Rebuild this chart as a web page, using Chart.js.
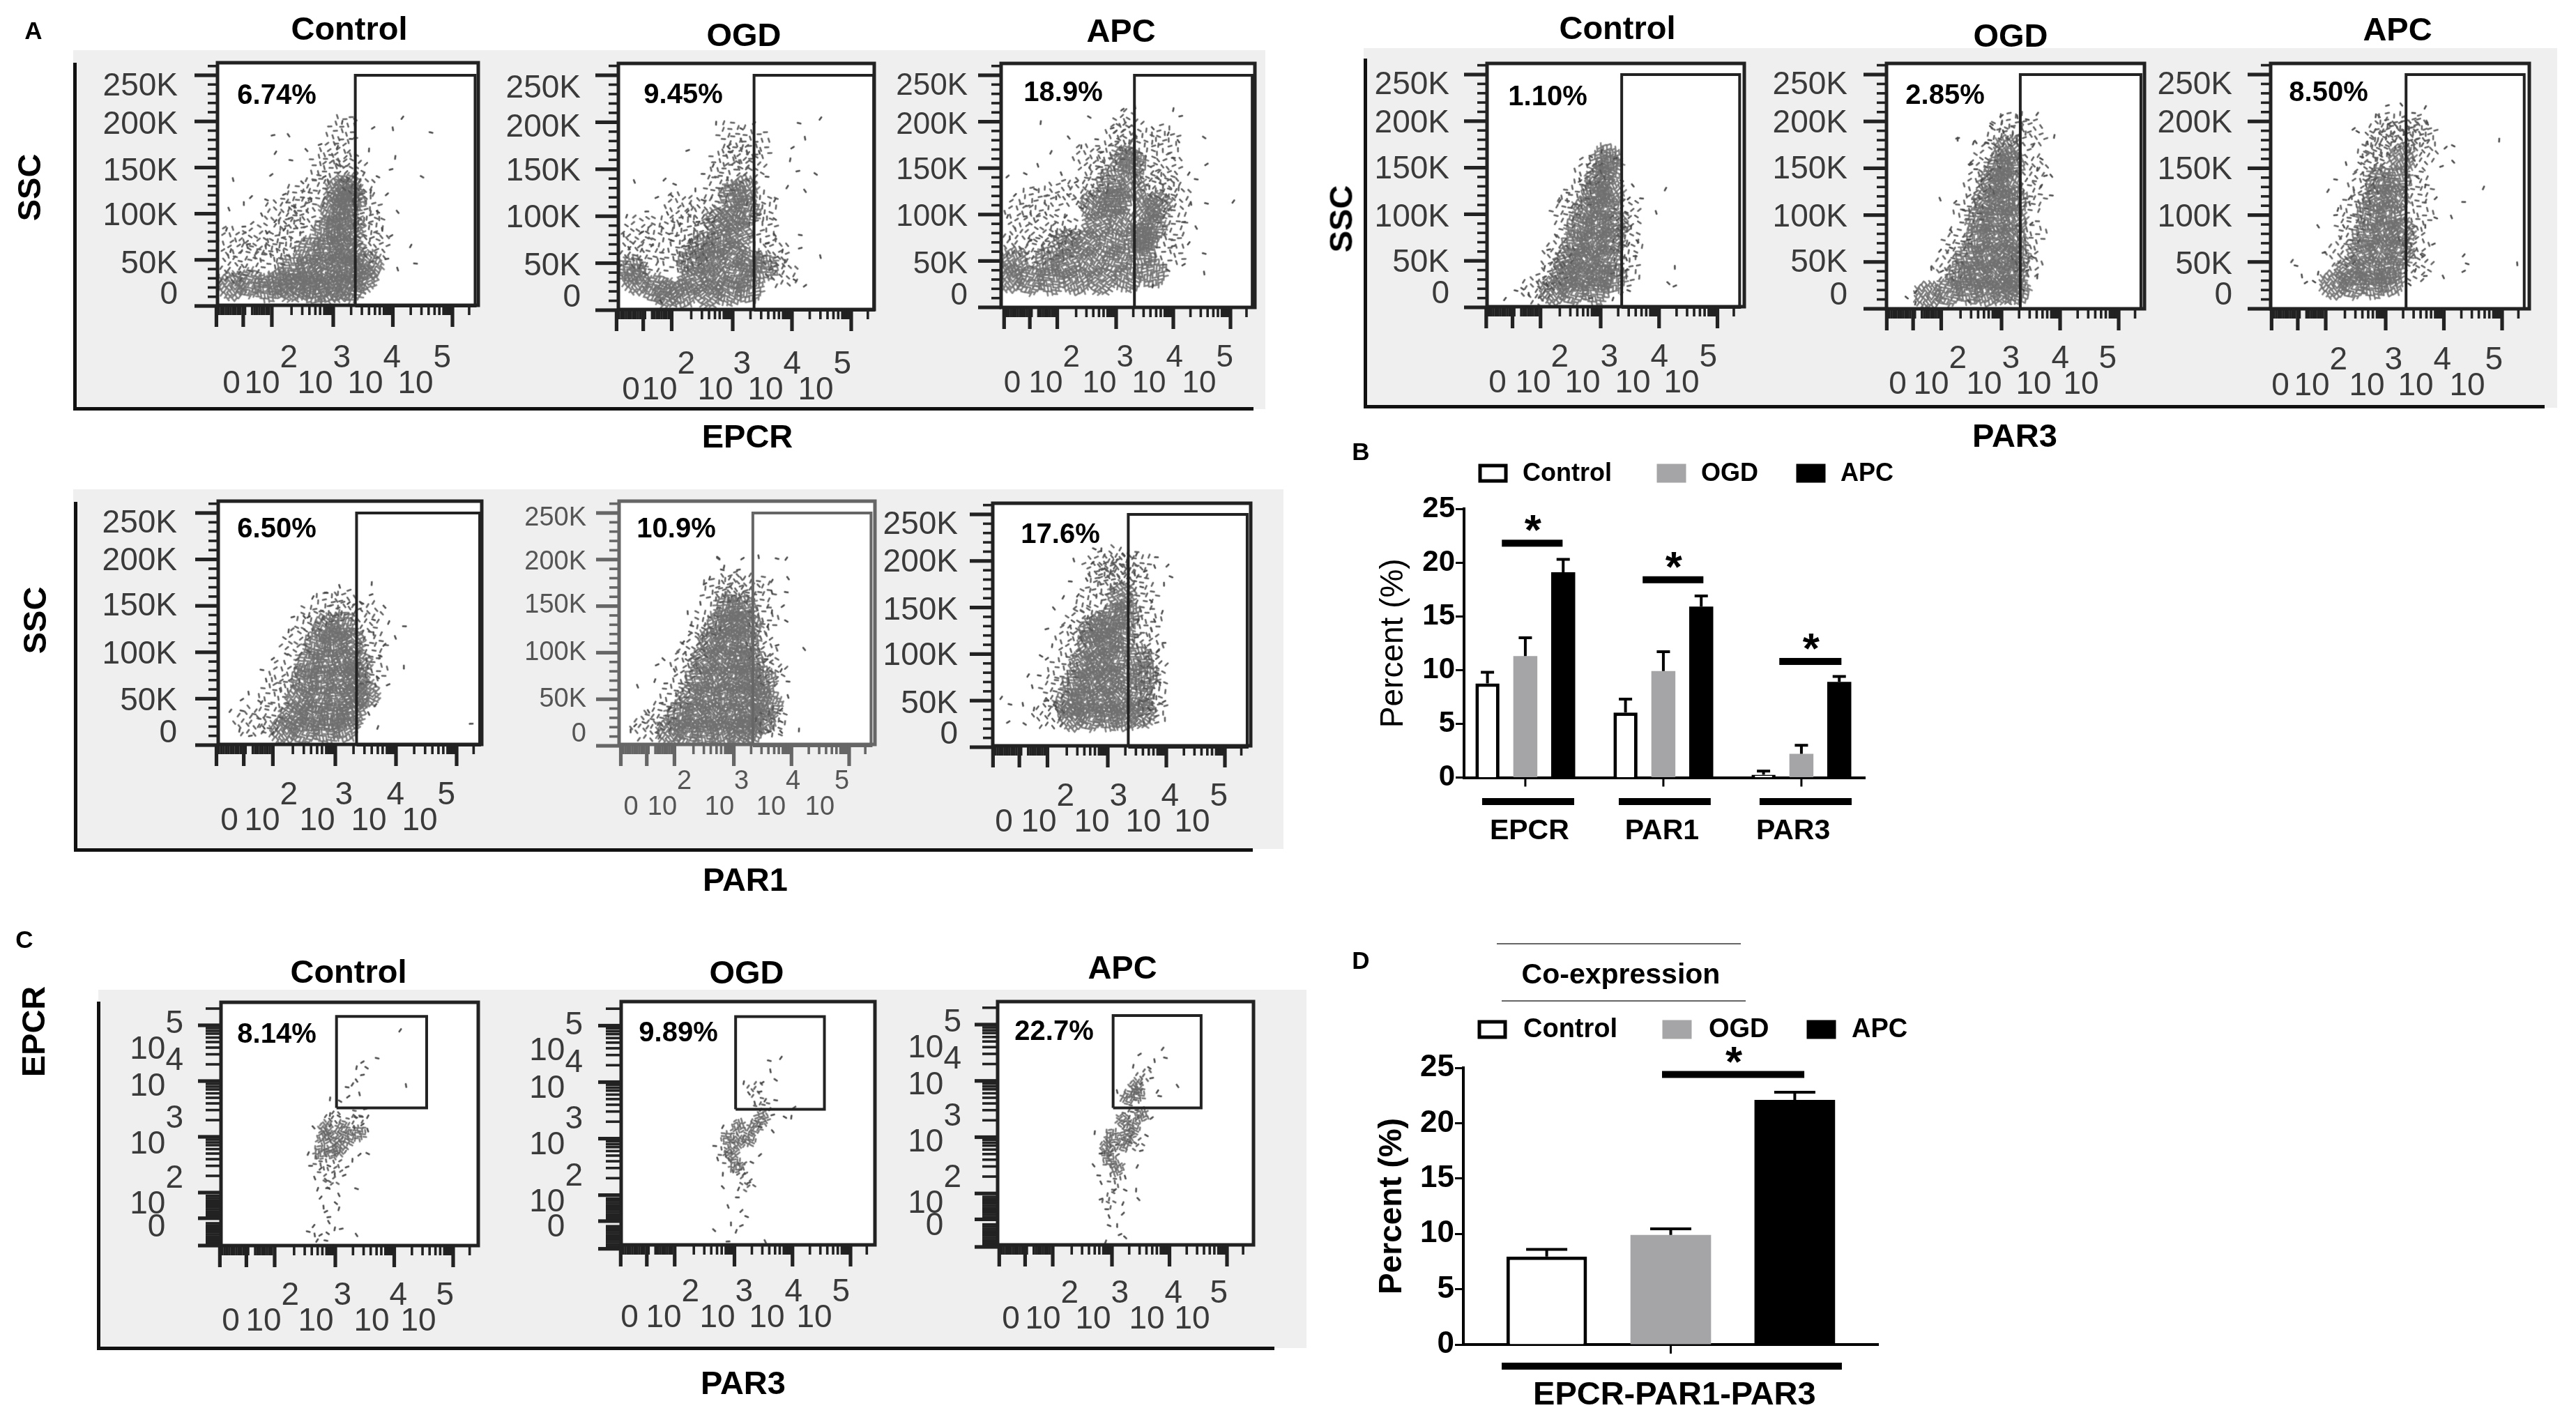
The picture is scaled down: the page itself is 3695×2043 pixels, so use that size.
<!doctype html>
<html>
<head>
<meta charset="utf-8" />
<title>Flow cytometry panels</title>
<script src="https://cdn.jsdelivr.net/npm/chart.js@4"></script>
<style>
html,body{margin:0;background:#fff}
#stage{position:relative;width:3695px;height:2043px;overflow:hidden;filter:blur(.7px);font-family:"Liberation Sans",Arial,sans-serif;color:#000}
#stage canvas{position:absolute}
#stage div{position:absolute;white-space:nowrap}
</style>
</head>
<body>
<div id="stage"></div>
<script>
const groupsB = ['EPCR', 'PAR1', 'PAR3'];
const seriesNames = ['Control', 'OGD', 'APC'];
const controlB = [8.75, 6.05, 0.26];
const ogdB = [11.3, 9.9, 2.2];
const apcB = [19.1, 15.9, 8.9];
const controlErrB = [9.8, 7.3, 0.6];
const ogdErrB = [13.0, 11.7, 3.0];
const apcErrB = [20.3, 16.9, 9.4];
const groupsD = ['EPCR-PAR1-PAR3'];
const controlD = [7.95];
const ogdD = [9.9];
const apcD = [22.1];
const controlErrD = [8.6];
const ogdErrD = [10.45];
const apcErrD = [22.8];

// flow plot axes
const sscTicks = [0, 50, 100, 150, 200, 250];
const sscTickLabels = ['0', '50K', '100K', '150K', '200K', '250K'];
const decadeExponents = ['2', '3', '4', '5'];
const xMajorTicks = [1.04, 1.49, 1.97, 3, 4, 5];
const xMinorTicks = [1.08,1.12,1.16,1.2,1.24,1.28,1.32,1.36,1.4,1.44,1.52,1.64,1.68,1.72,1.76,1.8,1.84,1.88,1.92,2.3,2.48,2.6,2.7,2.78,2.85,2.88,2.91,2.94,2.97,3.3,3.48,3.6,3.7,3.78,3.85,3.88,3.91,3.94,3.97,4.3,4.48,4.6,4.7,4.78,4.85,4.88,4.91,4.94,4.97,5.28];
const sscMinorTicks = [10,20,30,40,60,70,80,90,110,120,130,140,160,170,180,190,210,220,230,240,260];
const epcrMajorTicks = [1.05, 1.54, 2, 3, 4, 5];
const epcrMinorTicks = [1.09,1.13,1.17,1.21,1.25,1.29,1.33,1.37,1.41,1.45,1.58,1.62,1.66,1.7,1.74,1.78,1.82,1.86,1.9,1.94,2.3,2.48,2.6,2.7,2.78,2.85,2.9,2.95,3.3,3.48,3.6,3.7,3.78,3.85,3.9,3.95,4.3,4.48,4.6,4.7,4.78,4.85,4.9,4.95,5.3];

// gates: left edge per plot, shared right edge / top on the SSC plots
const gateLeftEpcr = [3.37, 3.36, 3.32];
const gateLeftPar3 = [3.36, 3.32, 3.35];
const gateLeftPar1 = [3.35, 3.33, 3.35];
const gateRightSsc = 5.38;
const gateTopSsc = 250;
const coGateX = [3.02, 4.55];
const coGateY = [3.52, 5.16];

// cell clouds: dense areas, thinner areas and single events
const epcrControlCore = [[1.3,22],[1.6,25],[1.9,20],[2.1,25],[2.3,20],[2.5,22],[2.7,18],[2.9,18],[3.1,20],[3.3,20],[2.3,40],[2.6,40],[2.85,40],[3.1,42],[3.3,40],[3.5,30],[3.6,45],[2.6,60],[2.9,62],[3.15,62],[3.3,60],[2.9,82],[3.1,85],[3.3,85],[3.0,105],[3.2,108],[3.3,115],[3.1,125],[3.25,128]];
const epcrControlMid = [[1.25,40],[1.6,50],[1.95,55],[1.3,70],[1.7,75],[2.1,65],[2.3,80],[2.5,95],[2.1,100],[2.7,125],[2.85,150],[3.05,165],[3.3,150],[3.6,85],[3.55,105],[3.7,65],[3.45,130],[2.4,115],[3.15,190]];
const epcrControlDots = [[4.16,204],[4.64,188],[4,192],[3.67,193],[3.37,202],[3.15,199],[1.99,185],[2.25,185],[2.03,166],[2.29,158],[1.32,137],[1.96,142],[4.49,140],[4.04,161],[3.97,148],[4.08,102],[4.3,65],[4.38,46],[4.08,40],[3.9,121],[3.75,140],[3.6,169],[2.78,175],[2.55,169],[3.07,172],[3.3,181],[1.25,105],[1.62,118],[1.88,115],[1.5,111],[2.18,121],[2.48,134],[1.21,83],[1.5,86],[1.8,99],[2.03,92],[2.33,108],[2.63,115],[2.85,140],[3.07,153],[1.28,60],[1.58,67],[1.88,80],[2.18,83],[2.48,89],[3.82,83],[3.97,76],[3.75,102],[3.63,124],[3.9,51]];
const epcrOgdCore = [[1.38,32],[1.72,23],[1.3,43],[2.15,18],[2.6,18],[2.93,20],[3.28,23],[2.33,32],[2.67,35],[3.1,37],[3.53,46],[2.67,52],[3,60],[3.28,52],[2.76,71],[3.1,80],[3,97],[3.23,105],[3,122],[3.19,128],[1.9,18],[2.3,52],[2.5,68],[2.75,95]];
const epcrOgdMid = [[1.25,60],[1.6,55],[2,55],[2.3,60],[1.4,85],[1.8,85],[2.2,85],[2.5,80],[2.5,105],[2.75,130],[2.85,155],[3.1,165],[3.3,150],[3.5,110],[3.5,85],[3.7,60],[3.85,40],[3,185],[3.4,175],[2.1,110]];
const epcrOgdDots = [[4.48,204],[4.12,199],[4.22,183],[4.01,173],[4.4,145],[3.97,160],[4.1,148],[4.22,127],[3.92,131],[4.14,80],[4.48,57],[4.22,26],[4.05,32],[3.88,52],[4.14,66],[3.71,80],[3.71,117],[3.58,142],[3.45,168],[3.36,199],[3.15,193],[2.72,199],[2.24,170],[2.93,173],[2.67,154],[2.5,145],[1.34,137],[1.85,139],[2.02,134],[2.37,128],[1.72,120],[1.97,122],[1.21,100],[1.55,105],[1.9,103],[2.24,105],[2.5,117],[1.16,80],[1.47,83],[1.81,88],[2.11,91],[2.41,94],[1.25,66],[1.64,69],[1.98,74],[2.28,74],[2.67,94],[3.71,97],[3.84,63],[3.58,71],[1.79,9]];
const epcrApcCore = [[1.14,32],[1.5,29],[1.86,29],[2.3,29],[2.75,29],[3.2,32],[3.64,37],[2.12,46],[2.57,49],[3.02,52],[3.46,58],[1.23,49],[2.48,69],[2.93,69],[3.38,75],[2.66,89],[3.1,92],[3.64,86],[3.02,115],[3.29,130],[3.73,110],[3.29,156],[1.8,50],[2.15,70],[2.6,110],[2.9,112],[2.9,135],[3.55,105],[3.15,160],[3.5,75]];
const epcrApcMid = [[1.25,70],[1.6,60],[2,65],[1.3,100],[1.7,85],[2.1,85],[1.6,115],[2,120],[2.4,125],[2.7,140],[2.9,165],[3.1,185],[3.2,195],[3.5,175],[3.85,180],[3.9,150],[4.05,120],[4,90],[3.95,60],[2.5,160],[3.55,140],[3.82,130]];
const epcrApcDots = [[5.05,114],[4.58,112],[4.31,112],[4.58,154],[4.54,183],[4,213],[4.13,206],[4.09,179],[4.27,144],[4.4,138],[3.33,216],[3.11,213],[2.53,205],[1.68,199],[2.93,193],[2.17,183],[1.86,167],[2.66,181],[1.63,153],[1.1,141],[1.41,144],[2.39,173],[2.75,167],[3.64,193],[3.91,187],[4,161],[2.04,144],[1.23,121],[1.59,127],[1.95,118],[2.3,135],[2.57,121],[1.1,98],[1.41,98],[1.77,101],[2.12,98],[2.39,107],[1.14,75],[1.5,72],[1.86,78],[2.21,81],[4.18,92],[4.4,86],[4.27,69],[4.54,58],[4.54,37],[4.18,46],[3.91,40],[3.64,23],[4,66]];
const par3ControlCore = [[2.19,18],[2.53,18],[2.91,18],[2.38,34],[2.68,34],[2.98,34],[3.21,31],[2.45,49],[2.76,52],[3.1,52],[2.57,68],[2.87,68],[3.17,71],[2.64,86],[2.95,89],[3.23,89],[2.76,105],[3.06,108],[2.91,123],[3.17,123],[2.98,138],[3.14,151],[3.1,160]];
const par3ControlMid = [[2.3,60],[2.4,100],[2.6,120],[2.8,145],[3.45,100],[3.45,70],[3.45,40],[2.15,35],[1.9,18]];
const par3ControlDots = [[1.36,9],[1.55,18],[1.77,14],[1.96,11],[1.66,20],[2.04,43],[2.11,62],[2.23,77],[2.3,114],[2.44,123],[2.64,137],[2.8,154],[2.83,162],[3.02,168],[3.25,160],[3.55,131],[4.11,127],[3.7,117],[3.95,102],[3.48,117],[3.44,102],[3.52,86],[3.4,86],[3.63,71],[3.48,68],[3.59,55],[3.44,52],[3.44,40],[3.48,18],[4.27,43],[4.27,23],[4.16,26],[3.21,9],[2.83,10],[2.08,25],[3.36,15],[3.36,136],[3.36,111]];
const par3OgdCore = [[1.75,14],[2.1,18],[2.45,20],[2.75,18],[3.05,20],[3.25,20],[2.3,36],[2.6,36],[2.9,36],[3.2,36],[2.45,55],[2.75,55],[3.05,55],[3.25,55],[2.6,75],[2.9,75],[3.2,75],[2.62,95],[2.9,95],[3.2,95],[2.75,115],[3,115],[3.22,115],[2.85,135],[3.1,135],[2.95,150],[3.15,155],[3.1,170]];
const par3OgdMid = [[2.1,45],[2.25,70],[2.45,105],[2.6,130],[2.75,160],[3,185],[3.2,195],[3.5,185],[3.5,150],[3.5,120],[3.5,80],[3.45,50]];
const par3OgdDots = [[3.61,208],[3.44,202],[3.27,205],[3,206],[2.83,197],[3.9,184],[2.25,182],[2.56,178],[3.54,174],[2.8,180],[3.03,189],[2.46,155],[3.68,160],[3.61,149],[3.75,142],[3.85,142],[3.68,131],[3.85,121],[3.48,112],[3.51,91],[3.54,55],[3.61,34],[3.44,41],[3.37,20],[2.66,137],[2.56,149],[1.95,117],[2.21,114],[2.36,105],[2.25,181],[2.48,154],[2.82,194],[2.52,177],[2.74,177],[2.14,83],[1.95,62],[2.14,65],[1.8,43],[1.98,40],[1.38,12],[1.53,6],[2.44,74],[2.44,8],[1.53,18]];
const par3ApcCore = [[2.11,26],[2.45,26],[2.79,26],[3.07,29],[2.38,41],[2.73,41],[3.07,41],[2.59,60],[2.93,63],[3.24,60],[2.66,78],[3,82],[3.27,82],[2.73,100],[3.07,100],[2.86,118],[3.17,118],[2.9,137],[3.2,137],[3.27,161]];
const par3ApcMid = [[2.25,60],[2.4,85],[2.5,110],[2.6,130],[2.75,150],[2.9,175],[3.1,195],[3.5,190],[3.6,165],[3.55,130],[3.55,100],[3.5,70],[3.55,45],[2.79,165],[3.62,186],[3.3,190],[2.95,190]];
const par3ApcDots = [[1.39,51],[1.46,46],[1.56,35],[1.63,28],[1.77,29],[1.84,38],[1.94,60],[1.84,88],[2.01,126],[2.14,138],[2.32,155],[2.45,192],[2.52,189],[2.83,206],[3.03,217],[3.27,218],[3.68,215],[3.48,209],[3.72,198],[4.03,172],[4.16,174],[4.95,180],[3.96,152],[4.16,157],[4.68,129],[4.34,114],[4.13,98],[3.86,118],[3.86,97],[3.68,88],[3.82,69],[3.62,57],[3.51,41],[3.68,35],[3.99,34],[4.34,57],[4.4,48],[5.26,48],[4.34,40],[3.41,26],[2.18,106],[2.14,100],[2.28,88],[2.38,118],[2.59,162],[2.69,177],[3.07,198],[3.55,140],[3.68,131]];
const par1ControlCore = [[2.15,16],[2.49,16],[2.85,16],[3.15,19],[2.3,31],[2.63,31],[2.96,31],[3.26,34],[2.41,49],[2.71,49],[3.04,49],[3.33,52],[3.5,55],[2.49,70],[2.78,70],[3.07,70],[3.33,73],[2.56,87],[2.85,90],[3.15,90],[3.37,87],[2.71,108],[3,111],[3.26,111],[2.85,126],[3.11,129]];
const par1ControlMid = [[1.6,25],[1.9,30],[2,55],[2.15,75],[2.35,110],[2.6,135],[2.9,150],[3.15,150],[3.5,140],[3.6,110],[3.6,80]];
const par1ControlDots = [[1.27,37],[1.46,37],[1.57,56],[1.46,49],[1.75,47],[1.42,16],[1.6,10],[1.82,19],[1.97,13],[1.79,81],[1.86,70],[1.97,93],[2.19,98],[2.23,123],[2.3,138],[2.49,138],[2.63,159],[2.85,164],[3.07,171],[3.22,153],[3.44,153],[3.6,174],[3.59,162],[3.81,149],[3.88,132],[4.14,128],[3.99,116],[3.81,108],[3.74,96],[4.13,84],[3.87,65],[3.7,73],[3.7,19],[5.24,23],[3.55,34],[3.66,43],[3.63,135],[3.63,120],[2.56,138]];
const par1OgdCore = [[1.9,15],[2.2,15],[2.5,15],[2.8,15],[3.1,15],[3.27,18],[2.05,32],[2.35,32],[2.65,32],[2.95,32],[3.25,32],[3.5,28],[2.25,52],[2.55,52],[2.85,52],[3.15,52],[3.4,55],[3.6,45],[2.4,72],[2.7,72],[3,72],[3.25,72],[3.5,70],[2.5,92],[2.8,92],[3.1,92],[3.28,92],[2.62,112],[2.9,112],[3.2,112],[2.75,130],[3,130],[3.25,130],[2.9,148],[3.15,148]];
const par1OgdMid = [[1.5,20],[1.75,30],[2,55],[2.15,85],[2.3,105],[2.5,130],[2.7,165],[2.95,170],[3.15,170],[3.45,165],[3.5,135],[3.5,105],[3.65,80],[3.65,25]];
const par1OgdDots = [[3.91,201],[3.75,201],[3.43,203],[3.15,201],[2.73,201],[2.83,192],[3.08,189],[3.94,180],[3.66,177],[3.91,165],[3.66,165],[3.85,150],[3.91,134],[3.66,144],[3.75,108],[4.22,104],[3.82,81],[3.94,69],[3.94,53],[3.82,39],[3.82,26],[4.13,17],[3.62,15],[3.82,15],[3.59,129],[3.56,93],[1.33,64],[1.29,22],[1.44,25],[1.21,16],[1.67,87],[1.78,93],[1.63,70],[1.82,67],[1.97,81],[2.12,111],[2.27,129],[2.2,143],[2.5,174],[2.73,202],[2.58,180],[1.74,46],[1.52,37],[1.89,40],[2.8,189],[2.42,153]];
const par1ApcCore = [[2.39,33],[2.71,33],[3.02,33],[3.27,33],[3.58,36],[2.33,47],[2.58,50],[2.89,50],[3.18,50],[3.55,53],[2.46,68],[2.74,71],[3.02,71],[3.27,74],[3.64,77],[2.58,89],[2.86,89],[3.11,95],[3.52,95],[2.71,109],[3.02,112],[3.24,118],[3.33,142],[3.24,163],[2.9,130],[3.1,140],[2.75,125]];
const par1ApcMid = [[2,35],[2.1,60],[2.25,85],[2.35,115],[2.5,135],[2.7,155],[2.9,175],[3.1,185],[3.3,190],[3.6,165],[3.65,135],[3.7,110],[3.75,85],[3.75,60],[3.75,40],[2.85,195],[3.15,200],[3.5,195]];
const par1ApcDots = [[1.18,53],[1.33,46],[1.55,46],[1.3,27],[1.58,25],[1.74,41],[1.96,50],[2.11,44],[1.64,77],[1.83,77],[1.71,65],[1.96,95],[1.86,98],[2.05,109],[1.96,127],[2.08,149],[2.24,161],[2.36,178],[2.42,201],[2.74,198],[2.77,213],[2.89,212],[2.92,191],[3.27,207],[3.49,207],[3.83,204],[3.8,194],[4.02,195],[4.08,183],[3.96,175],[3.64,189],[3.74,157],[3.93,145],[3.96,112],[3.8,136],[3.86,104],[3.83,80],[3.89,68],[3.96,49],[3.71,41],[3.52,136],[3.49,118],[2.64,180],[2.49,163],[3.58,172],[3.46,186]];
const coControlCore = [[2.84,3.17],[3.13,3.17],[3.41,3.07],[2.8,2.98],[2.99,2.98],[3.22,2.98],[2.75,2.73],[2.94,2.73],[3.08,2.78]];
const coControlMid = [[2.95,3.35],[3.35,3.35],[2.75,2.5],[3,2.45],[2.9,2.2]];
const coControlDots = [[4.1,4.91],[3.71,4.41],[4.2,3.92],[3.46,4.34],[3.53,4.24],[3.36,4.24],[3.46,4.11],[3.36,4.01],[3.29,3.94],[3.2,3.89],[3.41,3.77],[3.22,3.72],[3.08,3.64],[2.91,3.68],[3.51,3.5],[3.34,3.36],[3.55,3.36],[3.44,3.36],[3.55,3.12],[3.41,2.68],[3.55,2.7],[3.29,2.58],[3.2,2.46],[2.63,3.17],[2.54,2.7],[2.58,2.48],[2.65,2.26],[2.75,2.43],[2.89,2.48],[2.99,2.33],[3.15,2.31],[2.84,2.23],[2.7,2.06],[2.87,2.08],[3.06,1.96],[2.75,1.91],[3.36,2.07],[2.8,1.74],[2.84,1.66],[3.01,1.81],[3.06,1.71],[2.89,1.56],[2.89,1.47],[2.63,1.4],[2.54,1.3],[2.65,1.24],[2.75,1.24],[2.87,1.27],[2.99,1.35],[3.1,1.35],[3.36,1.24],[2.69,1.14],[2.84,1.14],[3.32,3.17],[3.46,3.22],[3.06,3.37],[2.91,3.4]];
const coOgdCore = [[3.07,2.95],[3.35,3.21],[2.89,3],[3.07,3.21],[2.94,2.74],[3.25,3],[3.03,2.53],[3.48,3.36]];
const coOgdMid = [[3.35,3.9],[3.5,3.6],[2.85,2.7],[3.1,2.45],[3.2,2.2]];
const coOgdDots = [[3.8,4.43],[3.6,4.38],[3.62,4.2],[3.48,3.99],[3.71,4.04],[3.16,3.99],[3.44,3.83],[3.25,3.8],[3.53,3.68],[3.71,3.68],[3.35,3.63],[4.03,3.55],[3.87,3.38],[3.98,3.38],[3.66,3.42],[3.66,3.13],[2.8,3.21],[2.66,2.87],[2.71,2.64],[3.44,2.71],[3.3,2.58],[2.8,2.37],[3.25,2.22],[2.8,2.14],[3.07,2.11],[3.05,1.96],[2.89,1.8],[3.12,1.72],[3.21,1.62],[2.94,1.49],[3.12,1.46],[2.65,1.38],[3.03,1.36],[2.89,1.18],[3.53,1.18],[3.16,2.37],[3.44,3.21]];
const coApcCore = [[3.42,3.92],[3.28,3.71],[3.46,3.76],[3.51,3.39],[3.19,3.29],[3.37,3.18],[3,3.03],[3.28,3.03],[2.91,2.82],[3.19,2.87],[2.95,2.61],[3.09,2.45]];
const coApcMid = [[3.55,4.1],[3.35,3.45],[3.05,2.2],[3,2.75],[3.4,2.9],[2.95,1.9]];
const coApcDots = [[3.88,4.57],[3.93,4.41],[3.74,4.36],[3.48,4.47],[3.65,4.23],[3.37,4.26],[3.69,4.05],[4.14,3.91],[3.79,3.81],[3.83,3.73],[3.09,3.81],[3.69,3.34],[3.6,3.03],[2.7,3.08],[3.51,2.76],[2.68,2.5],[3.44,2.48],[2.77,2.32],[3.23,2.29],[3.05,2.06],[3.23,2.06],[3.42,2.06],[2.81,1.9],[3.46,1.9],[3.19,1.82],[2.91,1.72],[2.95,1.59],[3.19,1.64],[2.95,1.43],[3.09,1.43],[3.14,1.27],[3.23,1.22],[2.89,1.14],[2.81,2.71],[2.81,2.19]];

Chart.defaults.font.family = '"Liberation Sans", Arial, sans-serif';
Chart.defaults.animation = false;

const stage = document.getElementById('stage');
const NBSP = '\u00a0';

function addCanvas(left, top, width, height) {
    const c = document.createElement('canvas');
    c.width = width; c.height = height;
    c.style.left = left + 'px'; c.style.top = top + 'px';
    c.style.width = width + 'px'; c.style.height = height + 'px';
    stage.appendChild(c);
    return c;
}

function addText(text, cx, cy, size, weight, rotate) {
    const d = document.createElement('div');
    d.textContent = text;
    d.style.cssText += `left:${cx}px;top:${cy}px;font-size:${size}px;font-weight:${weight};transform:translate(-50%,-50%)${rotate ? ' rotate(-90deg)' : ''}`;
    stage.appendChild(d);
}

function addRect(left, top, width, height, color) {
    const d = document.createElement('div');
    d.style.cssText += `left:${left}px;top:${top}px;width:${width}px;height:${height}px;background:${color}`;
    stage.appendChild(d);
}

// marker glyphs: a speckle of short dashes, the look of the dot plots
function makeStamp(radius, count, dash, color) {
    const c = document.createElement('canvas');
    c.width = c.height = radius * 2 + 6;
    const ctx = c.getContext('2d');
    const mid = radius + 3;
    ctx.strokeStyle = color;
    ctx.lineWidth = 2.6;
    ctx.lineCap = 'round';
    for (let i = 0; i < count; i++) {
        const r = radius * Math.sqrt(i / count);
        const a = i * 2.39996;
        const tilt = i % 2 ? 0.9 : 2.2;
        const x = mid + r * Math.cos(a), y = mid + r * Math.sin(a);
        ctx.beginPath();
        ctx.moveTo(x - Math.cos(tilt) * dash / 2, y - Math.sin(tilt) * dash / 2);
        ctx.lineTo(x + Math.cos(tilt) * dash / 2, y + Math.sin(tilt) * dash / 2);
        ctx.stroke();
    }
    return c;
}
const denseStamp = makeStamp(21, 68, 5.5, 'rgba(112,112,112,.85)');
const thinStamp = makeStamp(24, 18, 5, 'rgba(85,85,85,.9)');
const denseStampSmall = makeStamp(11, 20, 4, 'rgba(100,100,100,.85)');
const thinStampSmall = makeStamp(13, 7, 4, 'rgba(85,85,85,.9)');
const dotStamp = makeStamp(3, 1, 4.5, 'rgba(70,70,70,.95)');
const turn = c => c.dataIndex * 67;

// turn a pixel into an axis value given two reference pixels
function valueAt(px, ref, v0, v1) {
    return v0 + (px - ref[0]) / (ref[1] - ref[0]) * (v1 - v0);
}

function noPadding(s) {
    s.paddingTop = s.paddingBottom = s.paddingLeft = s.paddingRight = 0;
}

const xLabelLines = [['', '0']].concat(decadeExponents.map(e => [NBSP.repeat(6) + e, '10']));

function flowChart(p) {
    const [L, T, R, B] = p.box;
    const isCo = p.kind === 'co';
    const size = p.fontSize || 46;
    const color = p.lineColor || '#222';
    const textColor = p.textColor || '#3a3a3a';
    const y0 = isCo ? 3 : 0, y1 = isCo ? 5 : 250;
    const xRange = [valueAt(L, p.xRef, 3, 5), valueAt(R, p.xRef, 3, 5)];
    const yRange = [valueAt(B, p.yRef, y0, y1), valueAt(T, p.yRef, y0, y1)];
    const canvasLeft = p.labelRight - 140;
    const canvasBottom = B + 170;
    const c = addCanvas(canvasLeft, T - 8, R + 8 - canvasLeft, canvasBottom - T + 8);

    const yLines = isCo
        ? [['', '0' + NBSP + NBSP]].concat(decadeExponents.map(e => [e, '10' + NBSP + NBSP]))
        : sscTickLabels;
    const gate = isCo
        ? [[coGateX[0], coGateY[0]], [coGateX[1], coGateY[0]], [coGateX[1], coGateY[1]], [coGateX[0], coGateY[1]], [coGateX[0], coGateY[0]]]
        : [[p.gateLeft, 0], [gateRightSsc, 0], [gateRightSsc, gateTopSsc], [p.gateLeft, gateTopSsc], [p.gateLeft, 0]];

    const yMinor = isCo ? epcrMinorTicks : sscMinorTicks;
    const yMajor = isCo ? epcrMajorTicks : sscTicks;

    const plot = {
        id: 'plotFrame',
        beforeDraw(chart) {
            const a = chart.chartArea;
            chart.ctx.fillStyle = '#fff';
            chart.ctx.fillRect(a.left, a.top, a.right - a.left, a.bottom - a.top);
        },
        afterDraw(chart) {
            const a = chart.chartArea, ctx = chart.ctx;
            const sx = chart.scales.x, sy = chart.scales.y;
            ctx.save();
            ctx.strokeStyle = color;
            ctx.lineWidth = 5;
            ctx.strokeRect(a.left, a.top, a.right - a.left, a.bottom - a.top);
            // short ticks, then the long ones at each decade
            ctx.fillStyle = color;
            xMinorTicks.forEach(v => ctx.fillRect(sx.getPixelForValue(v) - 1.8, a.bottom, 3.6, 14));
            yMinor.forEach(v => ctx.fillRect(a.left - (isCo ? 22 : 14), sy.getPixelForValue(v) - 1.8, isCo ? 22 : 14, 3.6));
            xMajorTicks.forEach(v => ctx.fillRect(sx.getPixelForValue(v) - 2.6, a.bottom, 5.2, 31));
            yMajor.forEach(v => ctx.fillRect(a.left - 33, sy.getPixelForValue(v) - 2.6, 33, 5.2));
            ctx.restore();
        }
    };

    return new Chart(c, {
        type: 'scatter',
        data: {
            datasets: [
                { label: 'gate', data: gate, showLine: true, pointRadius: 0, borderColor: color, borderWidth: 4, order: 0, clip: false },
                { label: 'events', data: p.dots, pointStyle: dotStamp, pointRotation: turn, order: 1 },
                { label: 'thin', data: p.mid, pointStyle: isCo ? thinStampSmall : thinStamp, pointRotation: turn, order: 2 },
                { label: 'dense', data: p.core, pointStyle: isCo ? denseStampSmall : denseStamp, pointRotation: turn, order: 3 }
            ]
        },
        options: {
            responsive: false,
            devicePixelRatio: 1,
            layout: { padding: { top: 8, right: 8, left: 0, bottom: 0 } },
            plugins: { legend: { display: false }, tooltip: { enabled: false } },
            scales: {
                x: {
                    type: 'linear', min: xRange[0], max: xRange[1], weight: 0,
                    afterFit: s => { s.height = 35; noPadding(s); },
                    ticks: { display: false },
                    grid: { display: false },
                    border: { display: false }
                },
                xNames: {
                    type: 'linear', position: 'bottom', min: xRange[0], max: xRange[1], weight: 1,
                    afterBuildTicks: s => { s.ticks = p.xLabelPx.map(px => ({ value: valueAt(px, p.xRef, 3, 5) })); },
                    afterFit: s => { s.height = canvasBottom - B - 35; noPadding(s); },
                    ticks: {
                        autoSkip: false, maxRotation: 0, minRotation: 0, color: textColor,
                        padding: p.xDigitY - B - 35 - 37 - 18,
                        font: { size: size, lineHeight: 37 / size },
                        callback: (v, i) => xLabelLines[i]
                    },
                    grid: { display: false, drawTicks: false },
                    border: { display: false }
                },
                y: {
                    type: 'linear', min: yRange[0], max: yRange[1], weight: 0,
                    afterFit: s => { s.width = L - p.labelRight; noPadding(s); },
                    ticks: { display: false },
                    grid: { display: false },
                    border: { display: false }
                },
                yNames: {
                    type: 'linear', position: 'left', min: yRange[0], max: yRange[1], weight: 1,
                    afterBuildTicks: s => { s.ticks = p.yLabelPx.map(px => ({ value: valueAt(px, p.yRef, y0, y1) })); },
                    afterFit: s => { s.width = 140; noPadding(s); },
                    ticks: {
                        autoSkip: false, padding: 0, color: textColor,
                        font: { size: size, lineHeight: 37 / size },
                        callback: (v, i) => yLines[i]
                    },
                    grid: { display: false, drawTicks: false },
                    border: { display: false }
                }
            }
        },
        plugins: [plot]
    });
}

const flowPanels = [
    { core: epcrControlCore, mid: epcrControlMid, dots: epcrControlDots, gateLeft: gateLeftEpcr[0], box: [312, 90, 686, 438], xRef: [478, 649], yRef: [439, 108], xLabelPx: [332, 376, 452, 524, 596], xDigitY: 551, yLabelPx: [423, 379, 310, 246, 179, 124], labelRight: 255 },
    { core: epcrOgdCore, mid: epcrOgdMid, dots: epcrOgdDots, gateLeft: gateLeftEpcr[1], box: [887, 91, 1254, 444], xRef: [1051, 1221], yRef: [445, 108], xLabelPx: [905, 946, 1026, 1098, 1170], xDigitY: 560, yLabelPx: [427, 382, 313, 246, 183, 127], labelRight: 833 },
    { core: epcrApcCore, mid: epcrApcMid, dots: epcrApcDots, gateLeft: gateLeftEpcr[2], box: [1436, 91, 1800, 441], xRef: [1601, 1765], yRef: [441, 108], xLabelPx: [1452, 1500, 1577, 1648, 1720], xDigitY: 550, yLabelPx: [425, 380, 312, 245, 180, 124], labelRight: 1388, fontSize: 44 },
    { core: par3ControlCore, mid: par3ControlMid, dots: par3ControlDots, gateLeft: gateLeftPar3[0], box: [2133, 91, 2502, 440], xRef: [2296, 2463.5], yRef: [441, 107], xLabelPx: [2148, 2199, 2270, 2342, 2412], xDigitY: 550, yLabelPx: [422, 377, 312, 243, 177, 122], labelRight: 2079 },
    { core: par3OgdCore, mid: par3OgdMid, dots: par3OgdDots, gateLeft: gateLeftPar3[1], box: [2706, 91, 3076, 443], xRef: [2871, 3039], yRef: [443, 107], xLabelPx: [2722, 2770, 2846, 2917, 2985], xDigitY: 552, yLabelPx: [424, 377, 312, 243, 177, 122], labelRight: 2650 },
    { core: par3ApcCore, mid: par3ApcMid, dots: par3ApcDots, gateLeft: gateLeftPar3[2], box: [3257, 91, 3628, 443], xRef: [3422, 3589], yRef: [443, 107], xLabelPx: [3271, 3316, 3395, 3465, 3539], xDigitY: 554, yLabelPx: [424, 380, 312, 244, 177, 122], labelRight: 3202 },
    { core: par1ControlCore, mid: par1ControlMid, dots: par1ControlDots, gateLeft: gateLeftPar1[0], box: [313, 719, 691, 1068], xRef: [481, 655], yRef: [1069, 736], xLabelPx: [329, 376, 455, 529, 602], xDigitY: 1178, yLabelPx: [1052, 1006, 939, 870, 805, 751], labelRight: 254 },
    { core: par1OgdCore, mid: par1OgdMid, dots: par1OgdDots, gateLeft: gateLeftPar1[1], box: [888, 719, 1255, 1068], xRef: [1052.6, 1218], yRef: [1070, 736], xLabelPx: [905, 950, 1032, 1106, 1176], xDigitY: 1158, yLabelPx: [1054, 1004, 937, 869, 807, 744], labelRight: 841, fontSize: 38, lineColor: '#666', textColor: '#555' },
    { core: par1ApcCore, mid: par1ApcMid, dots: par1ApcDots, gateLeft: gateLeftPar1[2], box: [1424, 722, 1794, 1070], xRef: [1589, 1757], yRef: [1072, 738], xLabelPx: [1440, 1490, 1566, 1640, 1710], xDigitY: 1180, yLabelPx: [1054, 1010, 941, 876, 807, 753], labelRight: 1374 },
    { kind: 'co', core: coControlCore, mid: coControlMid, dots: coControlDots, box: [317, 1438, 686, 1787], xRef: [481, 650], yRef: [1631, 1471], xLabelPx: [331, 378, 453, 533, 600], xDigitY: 1896, yLabelPx: [1743, 1710, 1624, 1541, 1488], labelRight: 263 },
    { kind: 'co', core: coOgdCore, mid: coOgdMid, dots: coOgdDots, box: [891, 1437, 1255, 1786], xRef: [1053.5, 1220], yRef: [1633.6, 1471.5], xLabelPx: [903, 952, 1029, 1100, 1168], xDigitY: 1891, yLabelPx: [1743, 1707, 1625, 1544, 1490], labelRight: 836 },
    { kind: 'co', core: coApcCore, mid: coApcMid, dots: coApcDots, box: [1431, 1437, 1798, 1786], xRef: [1595, 1760], yRef: [1631.5, 1470], xLabelPx: [1450, 1496, 1568, 1645, 1710], xDigitY: 1893, yLabelPx: [1741, 1709, 1621, 1539, 1486], labelRight: 1379 }
];

// grey plates and L-shaped outer axes behind the flow plots
addRect(105, 72, 1710, 515, '#efefef');
addRect(1956, 69, 1712, 516, '#efefef');
addRect(105, 702, 1736, 516, '#efefef');
addRect(141, 1420, 1733, 514, '#efefef');
addRect(105, 90, 5, 497, '#111'); addRect(105, 584, 1693, 5, '#111');
addRect(1956, 84, 5, 500, '#111'); addRect(1956, 581, 1694, 5, '#111');
addRect(106, 720, 5, 500, '#111'); addRect(106, 1217, 1691, 5, '#111');
addRect(139, 1437, 5, 500, '#111'); addRect(139, 1932, 1689, 5, '#111');

flowPanels.forEach(flowChart);

function barChart(cfg) {
    const [L, T, R, B] = cfg.box;
    const c = addCanvas(cfg.canvasLeft, cfg.canvasTop, cfg.canvasRight - cfg.canvasLeft, cfg.canvasBottom - cfg.canvasTop);
    const fills = ['#fff', '#a5a5a8', '#000'];
    const edges = ['#000', '#a5a5a8', '#000'];
    const marks = {
        id: 'barMarks',
        afterDatasetsDraw(chart) {
            const ctx = chart.ctx, sx = chart.scales.x, sy = chart.scales.y;
            ctx.save();
            ctx.strokeStyle = '#000';
            ctx.fillStyle = '#000';
            // category tick under each group
            cfg.categories.forEach((n, i) => {
                ctx.fillRect(sx.getPixelForValue(i) - 1.5, chart.chartArea.bottom, 3, 13);
            });
            // error bars, upper half only
            cfg.errors.forEach((errs, d) => {
                chart.getDatasetMeta(d).data.forEach((bar, i) => {
                    const top = sy.getPixelForValue(errs[i]);
                    ctx.lineWidth = 4;
                    ctx.beginPath();
                    ctx.moveTo(bar.x, sy.getPixelForValue(cfg.values[d][i]));
                    ctx.lineTo(bar.x, top);
                    ctx.moveTo(bar.x - cfg.cap / 2, top);
                    ctx.lineTo(bar.x + cfg.cap / 2, top);
                    ctx.stroke();
                });
            });
            // significance bars with their stars
            ctx.textAlign = 'center';
            ctx.textBaseline = 'middle';
            ctx.font = 'bold 62px "Liberation Sans"';
            cfg.sig.forEach(s => {
                const a = sx.getPixelForValue(s[0]), b = sx.getPixelForValue(s[1]), y = sy.getPixelForValue(s[2]);
                ctx.fillRect(a, y - 5, b - a, 10);
                ctx.fillText('*', (a + b) / 2 + 1, y - 15);
            });
            // group underlines
            cfg.under.forEach(s => {
                const a = sx.getPixelForValue(s[0]), b = sx.getPixelForValue(s[1]);
                ctx.fillRect(a, cfg.underY - cfg.canvasTop - 5, b - a, 10);
            });
            // legend
            ctx.textAlign = 'left';
            ctx.font = `bold ${cfg.legendFont}px "Liberation Sans"`;
            chart.data.datasets.forEach((ds, i) => {
                const x = cfg.legendX[i][0] - cfg.canvasLeft, y = cfg.legendY - cfg.canvasTop;
                ctx.fillStyle = fills[i];
                ctx.strokeStyle = edges[i];
                ctx.lineWidth = 5;
                ctx.fillRect(x, y - 13, 41, 26);
                ctx.strokeRect(x + 2, y - 11, 37, 22);
                ctx.fillStyle = '#000';
                ctx.fillText(ds.label, cfg.legendX[i][1] - cfg.canvasLeft, y + 1);
            });
            ctx.restore();
        }
    };
    return new Chart(c, {
        type: 'bar',
        data: {
            datasets: cfg.values.map((vals, d) => ({
                label: seriesNames[d],
                data: vals.map((v, i) => ({ x: i, y: v })),
                backgroundColor: fills[d],
                borderColor: edges[d],
                borderWidth: d === 0 ? 5 : 0,
                categoryPercentage: cfg.catPct,
                barPercentage: cfg.barPct
            }))
        },
        options: {
            responsive: false,
            devicePixelRatio: 1,
            layout: { padding: { top: T - cfg.canvasTop, right: cfg.canvasRight - R, left: 0, bottom: 0 } },
            plugins: { legend: { display: false }, tooltip: { enabled: false } },
            scales: {
                x: {
                    type: 'linear', offset: false, min: cfg.xRange[0], max: cfg.xRange[1], weight: 0,
                    afterBuildTicks: s => { s.ticks = cfg.categories.map((n, i) => ({ value: i })); },
                    afterFit: s => { s.height = cfg.xHeight; noPadding(s); },
                    ticks: { display: false, autoSkip: false },
                    grid: { display: false },
                    border: { color: '#000', width: 4 }
                },
                xNames: {
                    type: 'linear', offset: false, position: 'bottom', min: cfg.xRange[0], max: cfg.xRange[1], weight: 1,
                    afterBuildTicks: s => { s.ticks = cfg.nameAt.map(v => ({ value: v })); },
                    afterFit: s => { s.height = cfg.canvasBottom - B - cfg.xHeight; noPadding(s); },
                    ticks: {
                        autoSkip: false, maxRotation: 0, minRotation: 0, color: '#000', padding: cfg.namePad,
                        font: { size: cfg.nameFont, weight: 'bold' },
                        callback: (v, i) => cfg.categories[i]
                    },
                    grid: { display: false, drawTicks: false },
                    border: { display: false }
                },
                y: {
                    type: 'linear', min: 0, max: 25,
                    afterFit: s => { s.width = L - cfg.canvasLeft; noPadding(s); },
                    title: { display: true, text: 'Percent (%)', color: '#000', font: { size: cfg.titleFont, weight: cfg.titleWeight } },
                    ticks: { stepSize: 5, color: '#000', padding: 1, font: { size: cfg.tickFont, weight: 'bold' } },
                    grid: { drawOnChartArea: false, tickLength: 12, tickWidth: 3, color: '#000' },
                    border: { color: '#000', width: 4 }
                }
            }
        },
        plugins: [marks]
    });
}

// panel B
barChart({
    box: [2100, 730, 2675, 1115.5], canvasLeft: 1968, canvasTop: 650, canvasBottom: 1225, canvasRight: 2760,
    categories: groupsB, values: [controlB, ogdB, apcB], errors: [controlErrB, ogdErrB, apcErrB],
    xRange: [-0.444, 2.46], catPct: 0.823, barPct: 0.635, cap: 19,
    sig: [[-0.17, 0.27, 21.8], [0.85, 1.29, 18.4], [1.84, 2.29, 10.8]],
    under: [[-0.313, 0.354], [0.677, 1.343], [1.697, 2.364]], underY: 1150,
    nameAt: [0.03, 0.99, 1.94], nameFont: 41, namePad: 8, xHeight: 45,
    titleFont: 46, titleWeight: 'normal', tickFont: 42,
    legendFont: 36, legendY: 679, legendX: [[2121, 2184], [2377, 2440], [2577, 2640]]
});

// panel D
barChart({
    box: [2099, 1532, 2694, 1929], canvasLeft: 1966, canvasTop: 1450, canvasBottom: 2035, canvasRight: 2760,
    categories: groupsD, values: [controlD, ogdD, apcD], errors: [controlErrD, ogdErrD, apcErrD],
    xRange: [-1, 1], catPct: 0.897, barPct: 0.65, cap: 59,
    sig: [[-0.042, 0.644, 24.4]],
    under: [[-0.815, 0.825]], underY: 1960,
    nameAt: [0.018], nameFont: 47, namePad: 5, xHeight: 40,
    titleFont: 46, titleWeight: 'bold', tickFont: 44,
    legendFont: 38, legendY: 1477, legendX: [[2120, 2185], [2385, 2451], [2592, 2656]]
});

// text around the charts
const panelLetters = [['A', 48, 44], ['B', 1952, 648], ['C', 35, 1348], ['D', 1952, 1378]];
panelLetters.forEach(t => addText(t[0], t[1], t[2], 35, 'bold'));

const plotTitles = [['Control', 501, 40], ['OGD', 1067, 49], ['APC', 1608, 43], ['Control', 2320, 39], ['OGD', 2884, 50], ['APC', 3439, 41], ['Control', 500, 1393], ['OGD', 1071, 1394], ['APC', 1610, 1387]];
plotTitles.forEach(t => addText(t[0], t[1], t[2], 47, 'bold'));

const gatePercents = [['6.74%', 397, 135], ['9.45%', 980, 134], ['18.9%', 1525, 131], ['1.10%', 2220, 137], ['2.85%', 2790, 135], ['8.50%', 3340, 131], ['6.50%', 397, 757], ['10.9%', 970, 757], ['17.6%', 1521, 765], ['8.14%', 397, 1482], ['9.89%', 973, 1480], ['22.7%', 1512, 1478]];
gatePercents.forEach(t => addText(t[0], t[1], t[2], 40, 'bold'));

const axisNames = [['EPCR', 1072, 625], ['PAR3', 2890, 624], ['PAR1', 1069, 1261], ['PAR3', 1066, 1983]];
axisNames.forEach(t => addText(t[0], t[1], t[2], 47, 'bold'));

addText('SSC', 41, 269, 47, 'bold', true);
addText('SSC', 1923, 314, 47, 'bold', true);
addText('SSC', 49, 890, 47, 'bold', true);
addText('EPCR', 47, 1480, 47, 'bold', true);

addText('Co-expression', 2325, 1397, 41, 'bold');
addRect(2147, 1353, 350, 2, '#666');
addRect(2154, 1435, 350, 2, '#666');
</script>
</body>
</html>
